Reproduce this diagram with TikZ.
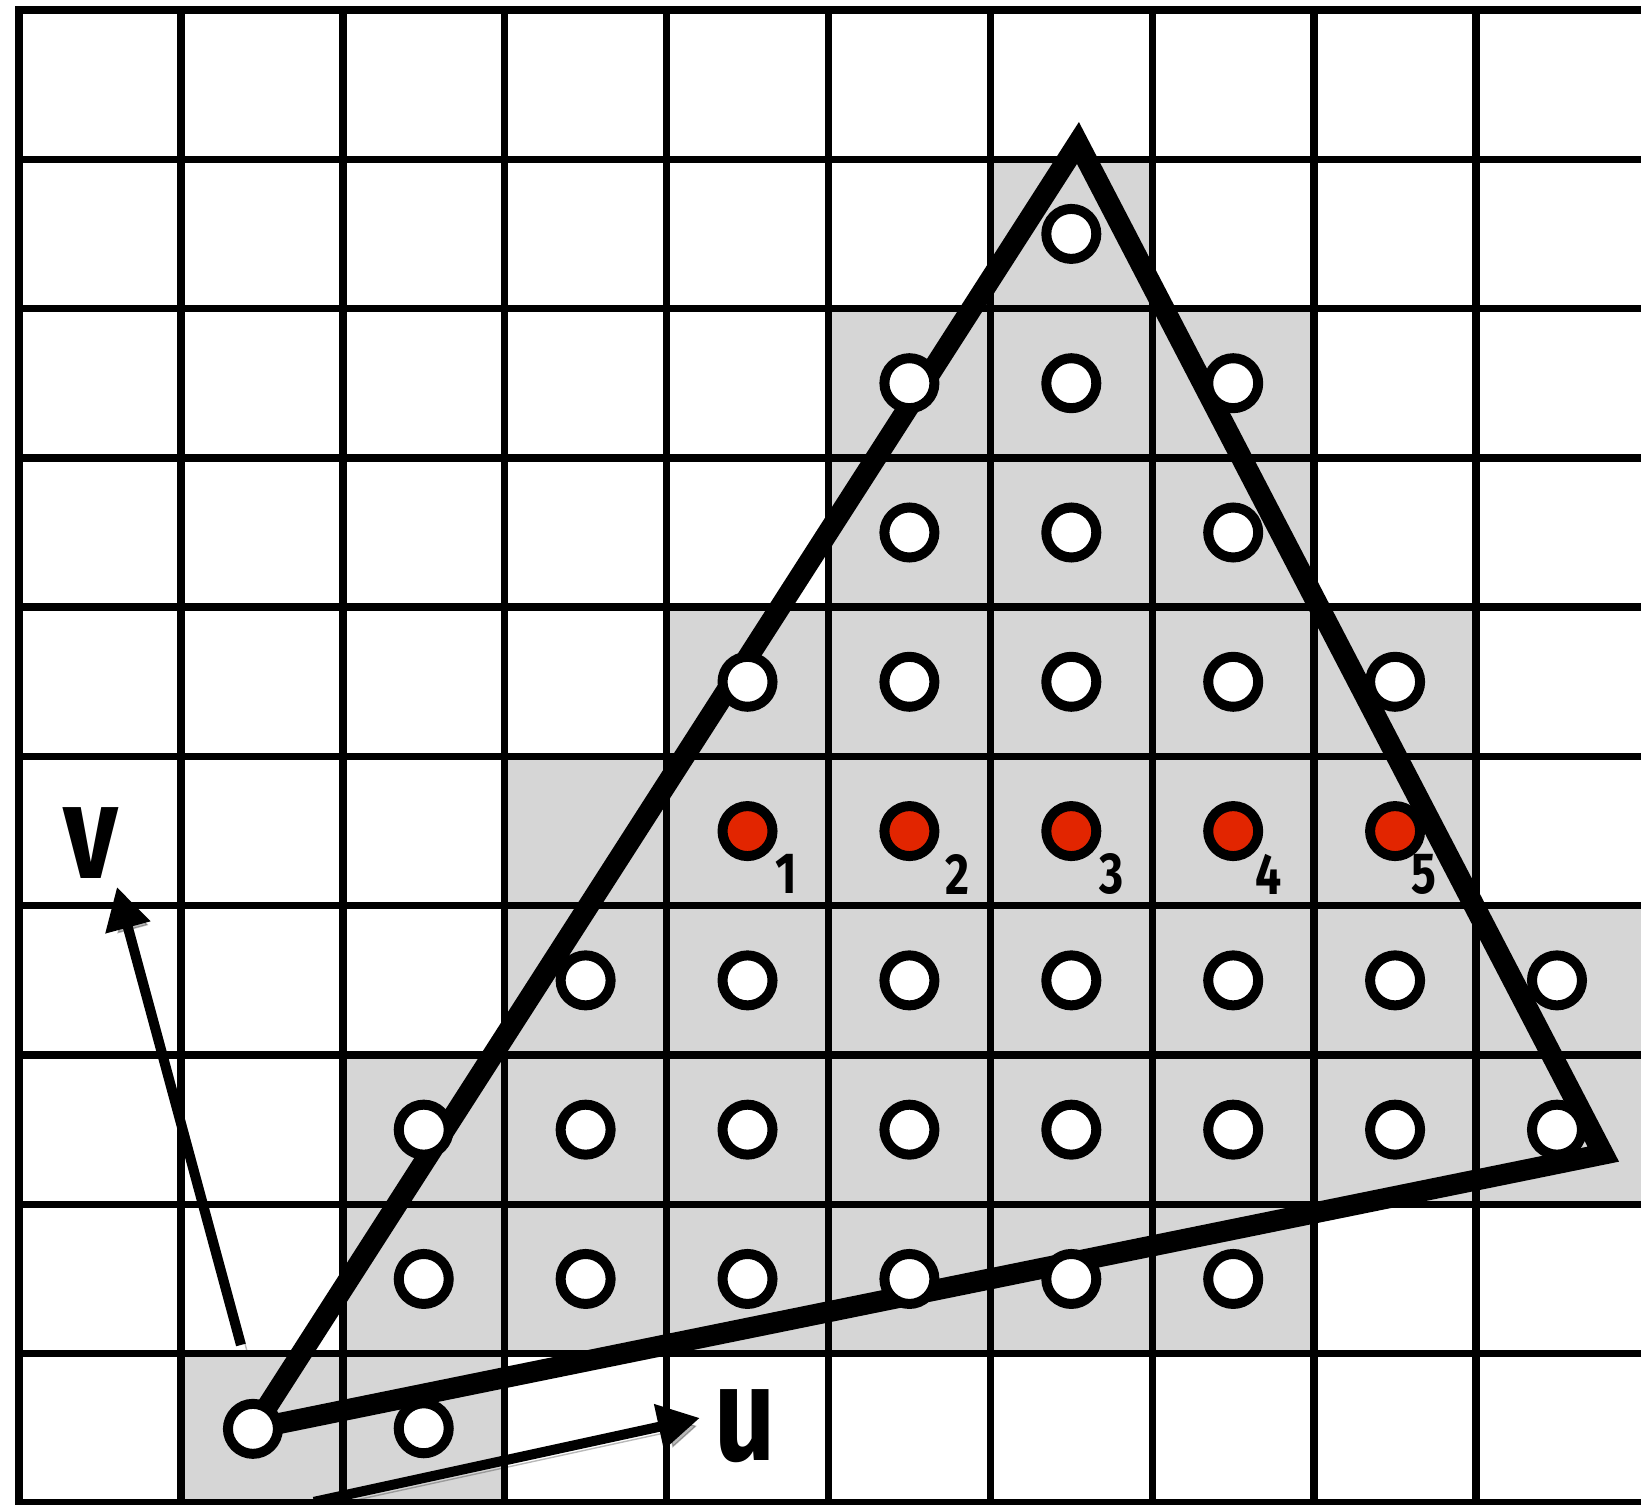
\documentclass[tikz,border=0pt]{standalone}
\usepackage{fontspec}
\usepackage{xcolor}
\usepackage{tikz}
\usetikzlibrary{arrows.meta}

\newfontfamily\labelfont[FakeStretch=0.8]{Fira Sans}
\definecolor{cellgray}{RGB}{214,214,214}
\definecolor{hitred}{RGB}{226,37,0}

\begin{document}
\begin{tikzpicture}[x=1.619cm,y=1.493cm,>={Triangle[length=0.42cm,width=0.44cm]},
  sample/.style={circle,draw,line width=0.1cm,fill=white,minimum size=0.5cm,inner sep=0pt},
  hit/.style={sample,fill=hitred},
  gridline/.style={line width=0.075cm},
  edge/.style={line width=0.21cm,line join=miter},
  shadowed/.style={preaction={draw=black,opacity=0.28,transform canvas={shift={(0.06cm,-0.06cm)}}}},
  idx/.style={font=\labelfont\bfseries\fontsize{16.5}{18}\selectfont,inner sep=0pt},
  axislabel/.style={font=\labelfont\bfseries\fontsize{38}{40}\selectfont,inner sep=0pt}]

  \useasboundingbox (-0.1174,-0.0134) rectangle (10.019,10.067);

  % covered cells (row / first column / end column)
  \foreach \j/\a/\b in {8/6/7,7/5/8,6/5/8,5/4/9,4/3/9,3/3/10.2,2/2/10.2,1/2/8,0/1/3}
    \fill[cellgray] (\a,\j) rectangle (\b,\j+1);

  % grid
  \foreach \i in {1,...,9} \draw[gridline] (\i,0) -- (\i,10);
  \foreach \j in {1,...,9} \draw[gridline] (0,\j) -- (10.2,\j);
  \draw[gridline] (10.2,10) -- (0,10) -- (0,0) -- (10.2,0);

  % triangle
  \coordinate (A) at (1.445,0.496);
  \coordinate (B) at (9.786,2.336);
  \coordinate (C) at (6.541,9.109);
  \draw[edge,shadowed] (A) -- (B) -- (C) -- cycle;

  % u and v directions
  \coordinate (v0) at (1.371,1.058);
  \coordinate (v1) at (0.605,4.126);
  \coordinate (u0) at (1.822,0.007);
  \coordinate (u1) at (4.206,0.569);
  \draw[->,line width=0.1cm,shadowed] (v0) -- (v1);
  \draw[->,line width=0.1cm,shadowed] (u0) -- (u1);
  \node[axislabel] (vlabel) at (0.445,4.421) {v};
  \node[axislabel] (ulabel) at (4.484,0.516) {u};

  % sample points
  \foreach \j/\cols in {8/{6},7/{5,6,7},6/{5,6,7},5/{4,5,6,7,8},3/{3,4,5,6,7,8,9},2/{2,3,4,5,6,7,8,9},1/{2,3,4,5,6,7},0/{2}}
    \foreach \i in \cols
      \node[sample] (s-\i-\j) at (\i+0.5,\j+0.5) {};
  \node[sample] (s-A) at (A) {};

  % numbered samples
  \foreach \i/\n/\dx in {4/1/0.24,5/2/0.30,6/3/0.25,7/4/0.22,8/5/0.18} {
    \node[hit] (h-\n) at (\i+0.5,4.5) {};
    \node[idx] (n-\n) at (\i+0.5+\dx,4.5-0.288) {\n};
  }

\end{tikzpicture}
\end{document}
